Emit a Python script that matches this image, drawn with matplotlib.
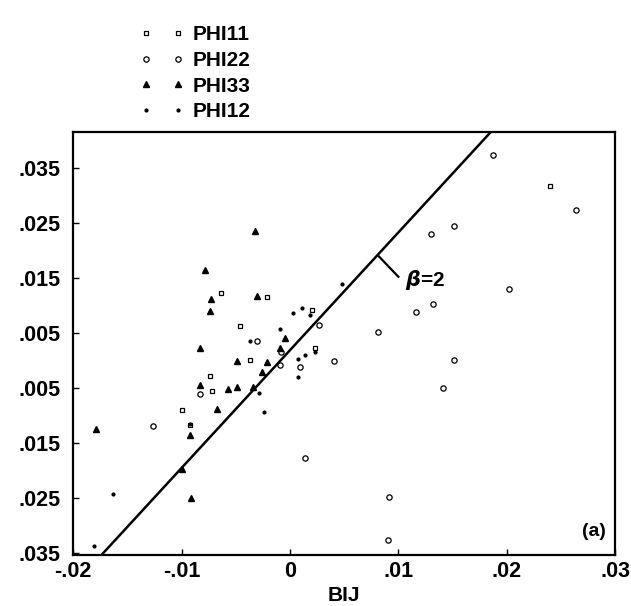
import matplotlib
matplotlib.use('Agg')
import matplotlib.pyplot as plt

plt.rcParams['font.family'] = ['Liberation Sans', 'DejaVu Sans']
plt.rcParams['font.weight'] = 'bold'

# values
phi11_x = [-0.0021, -0.0046, -0.0037, -0.0072, -0.0074, -0.0100, 0.0020,
           0.0023, 0.0240, -0.0064, -0.0092]
phi11_y = [0.0115, 0.0063, 0.0001, -0.0055, -0.0028, -0.0091, 0.0091,
           0.0022, 0.0317, 0.0123, -0.0118]

phi22_x = [0.0187, 0.0264, 0.0151, 0.0130, 0.0202, 0.0132, 0.0116, 0.0081,
           0.0151, 0.0141, 0.0041, 0.0014, 0.0027, 0.0091, 0.0090, -0.0126,
           -0.0030, -0.0008, 0.0009, -0.0083, -0.0009]
phi22_y = [0.0374, 0.0273, 0.0244, 0.0229, 0.0130, 0.0103, 0.0088, 0.0051,
           0.0001, -0.0051, -0.0001, -0.0178, 0.0064, -0.0249, -0.0326,
           -0.0120, 0.0035, 0.0015, -0.0012, -0.0061, -0.0008]

phi33_x = [-0.0179, -0.0032, -0.0078, -0.0073, -0.0074, -0.0030, -0.0083,
           -0.0049, -0.0021, -0.0026, -0.0083, -0.0057, -0.0049, -0.0034,
           -0.0067, -0.0092, -0.0100, -0.0091, -0.0005, -0.0009]
phi33_y = [-0.0124, 0.0235, 0.0165, 0.0112, 0.0090, 0.0117, 0.0022,
           -0.0001, -0.0003, -0.0021, -0.0045, -0.0052, -0.0049, -0.0048,
           -0.0088, -0.0135, -0.0198, -0.0250, 0.0040, 0.0022]

phi12_x = [0.0048, 0.0003, 0.0011, 0.0018, -0.0009, -0.0037, 0.0007,
           0.0014, 0.0007, -0.0029, -0.0024, -0.0163, -0.0181, -0.0092,
           0.0023]
phi12_y = [0.0138, 0.0087, 0.0096, 0.0082, 0.0057, 0.0035, 0.0003,
           0.0010, -0.0030, -0.0060, -0.0093, -0.0243, -0.0337, -0.0115,
           0.0015]

beta_x = [-0.0174, 0.0187]
beta_y = [-0.0354, 0.0419]

x_ticks = [-0.02, -0.01, 0.0, 0.01, 0.02, 0.03]
x_labels = ['-.02', '-.01', '0', '.01', '.02', '.03']
y_ticks = [0.035, 0.025, 0.015, 0.005, -0.005, -0.015, -0.025, -0.035]
y_labels = ['.035', '.025', '.015', '.005', '.005', '.015', '.025', '.035']


fig = plt.figure(figsize=(6.31, 6.06), dpi=100)
ax = fig.add_axes([0.116, 0.084, 0.859, 0.698])

ax.plot(phi11_x, phi11_y, ls='none', marker='s', ms=3.5, mfc='white',
        mec='black', mew=0.9, label='PHI11')
ax.plot(phi22_x, phi22_y, ls='none', marker='o', ms=3.8, mfc='white',
        mec='black', mew=0.9, label='PHI22')
ax.plot(phi33_x, phi33_y, ls='none', marker='^', ms=5, color='black',
        label='PHI33')
ax.plot(phi12_x, phi12_y, ls='none', marker='.', ms=4, color='black',
        label='PHI12')

# beta = 2 line with its label
ax.plot(beta_x, beta_y, color='black', lw=1.8)
ax.plot([0.0082, 0.0100], [0.0189, 0.0152], color='black', lw=1.6)
ax.text(0.0106, 0.0147, r'$\beta$=2', fontsize=15, fontweight='bold',
        ha='left', va='center')
ax.text(0.0280, -0.0312, '(a)', fontsize=14, ha='center', va='center')

ax.set_xlim(-0.02, 0.0295)
ax.set_ylim(-0.0354, 0.0415)
ax.set_xticks(x_ticks)
ax.set_xticklabels(x_labels)
ax.set_yticks(y_ticks)
ax.set_yticklabels(y_labels)
ax.tick_params(axis='both', direction='in', length=4, width=1,
               labelsize=15.5)
ax.tick_params(axis='x', pad=4)
ax.tick_params(axis='y', pad=9)
for spine in ax.spines.values():
    spine.set_linewidth(1.6)
ax.set_xlabel('BIJ', fontsize=15, fontweight='bold', labelpad=3)

ax.legend(loc='upper left', bbox_to_anchor=(0.222, 0.958),
          bbox_transform=fig.transFigure, frameon=False, numpoints=2,
          fontsize=15, handlelength=2.1, handletextpad=0.4,
          labelspacing=0.32, borderpad=0, borderaxespad=0)

fig.savefig('out.png', dpi=100)
